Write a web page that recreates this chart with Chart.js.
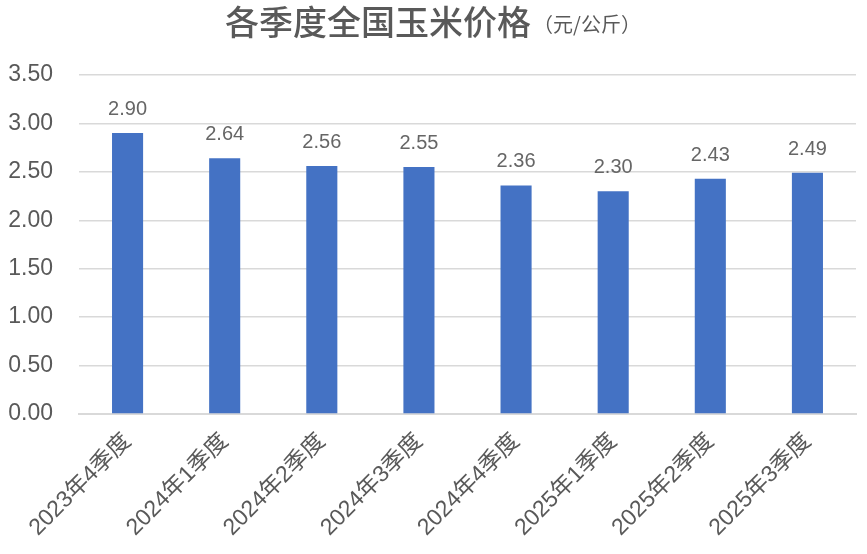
<!DOCTYPE html>
<html>
<head>
<meta charset="utf-8">
<script src="https://cdn.jsdelivr.net/npm/chart.js@4"></script>
<style>
  html, body { margin: 0; padding: 0; background: #fff; }
  #box { width: 867px; height: 554px; }
</style>
</head>
<body>
<div id="box"><canvas id="priceChart"></canvas></div>
<script>
// 季度
const quarters = ['2023年4季度', '2024年1季度', '2024年2季度', '2024年3季度',
  '2024年4季度', '2025年1季度', '2025年2季度', '2025年3季度'];
// 玉米价格（元/公斤）
const prices = [2.90, 2.64, 2.56, 2.55, 2.36, 2.30, 2.43, 2.49];

const titleMain = '各季度全国玉米价格';
const titleUnit = '（元/公斤）';

const FONT = '"Liberation Sans", Arial, "Noto Sans CJK SC", sans-serif';
const GREY = '#595959';

// 标题：主标题加粗，单位小字
const titlePlugin = {
  id: 'twoPartTitle',
  afterDraw(chart) {
    const ctx = chart.ctx;
    ctx.save();
    ctx.textBaseline = 'middle';
    ctx.fillStyle = GREY;
    const f1 = '500 34px "Noto Sans CJK SC", sans-serif';
    const f2 = '20px "Noto Sans CJK SC", sans-serif';
    ctx.font = f1;
    const w1 = ctx.measureText(titleMain).width;
    ctx.font = f2;
    const w2 = ctx.measureText(titleUnit).width;
    const x0 = 432 - (w1 + w2) / 2;
    ctx.font = f1;
    ctx.textAlign = 'left';
    ctx.fillText(titleMain, x0, 22);
    ctx.font = f2;
    ctx.fillText(titleUnit, x0 + w1 + 2, 24);
    ctx.restore();
  }
};

// 柱顶数值
const labelPlugin = {
  id: 'barLabels',
  afterDatasetsDraw(chart) {
    const ctx = chart.ctx;
    const meta = chart.getDatasetMeta(0);
    ctx.save();
    ctx.font = '20px ' + FONT;
    ctx.fillStyle = '#666666';
    ctx.textAlign = 'center';
    ctx.textBaseline = 'alphabetic';
    meta.data.forEach((bar, i) => {
      ctx.fillText(prices[i].toFixed(2), bar.x, bar.y - 18);
    });
    ctx.restore();
  }
};

const ctx = document.getElementById('priceChart').getContext('2d');
new Chart(ctx, {
  type: 'bar',
  data: {
    labels: quarters,
    datasets: [{
      data: prices,
      backgroundColor: '#4472C4',
      categoryPercentage: 1,
      barPercentage: 0.32
    }]
  },
  options: {
    responsive: true,
    maintainAspectRatio: false,
    animation: false,
    layout: { padding: { top: 75, left: 6, right: 11, bottom: 0 } },
    scales: {
      x: {
        grid: { display: false },
        border: { color: '#d9d9d9', width: 2 },
        ticks: {
          color: GREY,
          font: { size: 23, family: FONT },
          minRotation: 45,
          maxRotation: 45,
          padding: 6
        },
        afterFit(scale) {
          scale.height = 140;
          scale.paddingLeft = 0;
          scale.paddingRight = 0;
        }
      },
      y: {
        min: 0,
        max: 3.5,
        grid: { color: '#d9d9d9', lineWidth: 1.5, drawTicks: false },
        border: { display: false },
        ticks: {
          stepSize: 0.5,
          color: GREY,
          font: { size: 23, family: FONT },
          padding: 26,
          callback: v => v.toFixed(2)
        },
        afterFit(scale) {
          scale.width = 73;
          scale.paddingTop = 0;
          scale.paddingBottom = 0;
        }
      }
    },
    plugins: {
      legend: { display: false },
      tooltip: { enabled: false }
    }
  },
  plugins: [titlePlugin, labelPlugin]
});
</script>
</body>
</html>
